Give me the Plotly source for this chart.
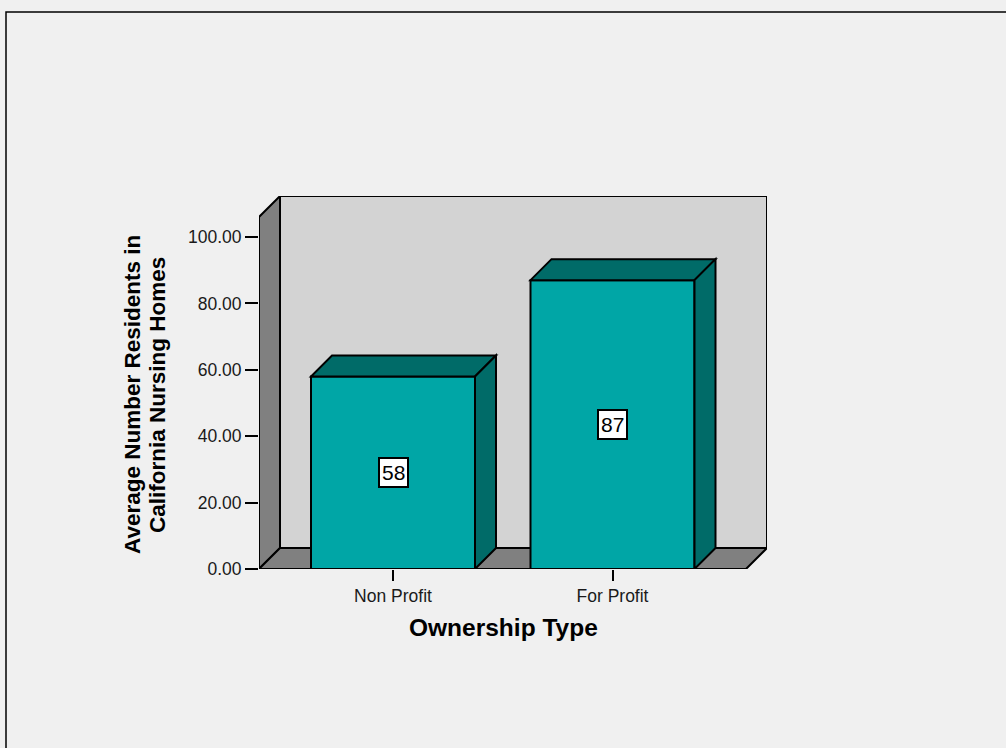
import plotly.graph_objects as go

# ---- data ----
categories = ["Non Profit", "For Profit"]
values = [58, 87]
y_ticks = [0, 20, 40, 60, 80, 100]
x_title = "Ownership Type"
y_title_lines = ["Average Number Residents in", "California Nursing Homes"]

# ---- layout geometry (pixels) ----
W_PX, H_PX = 1006, 748
ML, MR, MT, MB = 259, 239, 196, 179
PW = W_PX - ML - MR
PH = H_PX - MT - MB
DEPTH_PX = 21

xpos = list(range(len(categories)))
x_unit_px = 219.5                 # px per category step
x_min = -134 / x_unit_px
x_max = x_min + PW / x_unit_px
y_unit_px = 3.32
y_max = PH / y_unit_px
dx = DEPTH_PX / x_unit_px
dy = DEPTH_PX / y_unit_px
bar_w = 164 / x_unit_px
floor_right = x_max - dx

FRONT = "#00A6A6"
DARK = "#006B68"
WALL = "#D3D3D3"
SIDE = "#808080"
BG = "#F0F0F0"
FONT = "Liberation Sans, Arial"


def path(pts):
    return "M " + " L ".join(f"{x},{y}" for x, y in pts) + " Z"


def px_x(p):
    return (p - ML) / PW


def px_y(p):
    return 1 - (p - MT) / PH


shapes = []
line = dict(color="black", width=2)
# back wall
shapes.append(dict(type="path", xref="x", yref="y", layer="below", fillcolor=WALL, line=line,
                   path=path([(x_min + dx, dy), (x_max, dy), (x_max, y_max), (x_min + dx, y_max)])))
# left wall
shapes.append(dict(type="path", xref="x", yref="y", layer="below", fillcolor=SIDE, line=line,
                   path=path([(x_min, 0), (x_min + dx, dy), (x_min + dx, y_max), (x_min, y_max - dy)])))
# floor
shapes.append(dict(type="path", xref="x", yref="y", layer="below", fillcolor=SIDE, line=line,
                   path=path([(x_min, 0), (floor_right, 0), (x_max, dy), (x_min + dx, dy)])))

for xc, v in zip(xpos, values):
    xl, xr = xc - bar_w / 2, xc + bar_w / 2
    shapes.append(dict(type="path", xref="x", yref="y", layer="above", fillcolor=DARK, line=line,
                       path=path([(xl, v), (xr, v), (xr + dx, v + dy), (xl + dx, v + dy)])))
    shapes.append(dict(type="path", xref="x", yref="y", layer="above", fillcolor=DARK, line=line,
                       path=path([(xr, 0), (xr, v), (xr + dx, v + dy), (xr + dx, dy)])))

# outer border
shapes.append(dict(type="rect", xref="paper", yref="paper", layer="below",
                   x0=px_x(6), x1=px_x(1012), y0=px_y(12), y1=px_y(760),
                   line=dict(color="black", width=1.5), fillcolor="rgba(0,0,0,0)"))

fig = go.Figure()
fig.add_trace(go.Bar(x=xpos, y=values, width=bar_w, marker=dict(color=FRONT, line=line),
                     hoverinfo="skip"))

annotations = []
for xc, v in zip(xpos, values):
    annotations.append(dict(x=xc, y=v / 2, xref="x", yref="y", text=str(v), showarrow=False,
                            bgcolor="white", bordercolor="black", borderwidth=2, borderpad=2,
                            font=dict(family=FONT, size=21, color="black")))
annotations.append(dict(x=px_x(503), y=px_y(627), xref="paper", yref="paper", text=f"<b>{x_title}</b>",
                        showarrow=False, font=dict(family=FONT, size=24.5, color="black"),
                        xanchor="center", yanchor="middle"))
for xp, txt in zip([132, 157], y_title_lines):
    annotations.append(dict(x=px_x(xp), y=px_y(395), xref="paper", yref="paper", text=f"<b>{txt}</b>",
                            showarrow=False, textangle=-90,
                            font=dict(family=FONT, size=22.5, color="black"),
                            xanchor="center", yanchor="middle"))

fig.update_layout(
    width=W_PX, height=H_PX,
    margin=dict(l=ML, r=MR, t=MT, b=MB, autoexpand=False),
    paper_bgcolor=BG, plot_bgcolor="rgba(0,0,0,0)",
    showlegend=False, shapes=shapes, annotations=annotations,
    font=dict(family=FONT, size=17.5, color="#1a1a1a"),
    xaxis=dict(range=[x_min, x_max], tickvals=xpos, ticktext=categories, ticks="outside",
               ticklen=11, tickwidth=2, tickcolor="black", showgrid=False, zeroline=False,
               showline=False, fixedrange=True, automargin=False),
    yaxis=dict(range=[0, y_max], tickvals=y_ticks, tickformat=".2f", ticks="outside",
               ticklen=13, tickwidth=2, tickcolor="black", showgrid=False, zeroline=False,
               showline=False, fixedrange=True, automargin=False),
)

fig.write_html("out.html", config={"displayModeBar": False})
